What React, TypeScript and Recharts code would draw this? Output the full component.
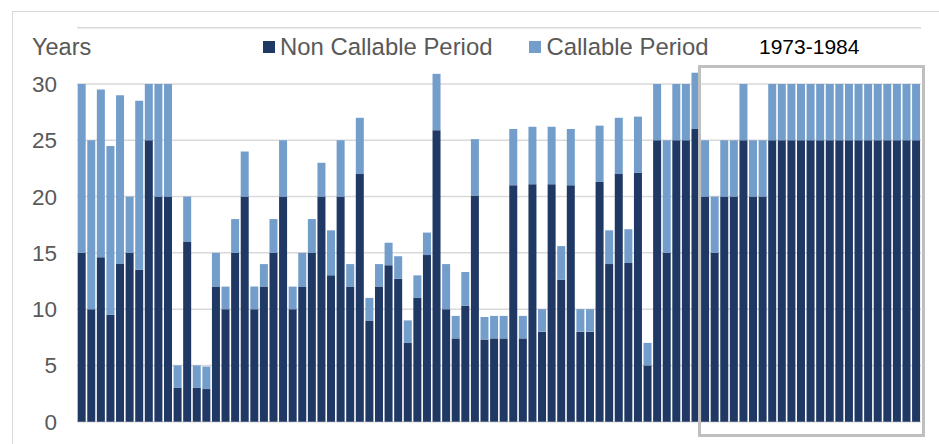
import React from "react";
import { BarChart, Bar, XAxis, YAxis, CartesianGrid } from "recharts";

// Non-callable period (years) per bond issue
const nonCallable: number[] = [
  15, 10, 14.6, 9.5, 14, 15, 13.5, 25, 20, 20,
  3, 16, 3, 2.9, 12, 10, 15, 20, 10, 12,
  15, 20, 10, 12, 15, 20, 13, 20, 12, 22,
  9, 12, 13.9, 12.7, 7, 11, 14.8, 25.9, 10, 7.4,
  10.3, 20.1, 7.3, 7.4, 7.4, 21, 7.4, 21.1, 8, 21.1,
  12.6, 21, 8, 8, 21.3, 14, 22, 14.1, 22.1, 5,
  25, 15, 25, 25, 26, 20, 15, 20, 20, 25,
  20, 20, 25, 25, 25, 25, 25, 25, 25, 25,
  25, 25, 25, 25, 25, 25, 25, 25,
];

// Total maturity (years) per bond issue
const totalMaturity: number[] = [
  30, 25, 29.5, 24.5, 29, 20, 28.5, 30, 30, 30,
  5, 20, 5, 4.9, 15, 12, 18, 24, 12, 14,
  18, 25, 12, 15, 18, 23, 17, 25, 14, 27,
  11, 14, 15.9, 14.7, 9, 13, 16.8, 30.9, 14, 9.4,
  13.3, 25.1, 9.3, 9.4, 9.4, 26, 9.4, 26.2, 10, 26.2,
  15.6, 26, 10, 10, 26.3, 17, 27, 17.1, 27.1, 7,
  30, 25, 30, 30, 31, 25, 20, 25, 25, 30,
  25, 25, 30, 30, 30, 30, 30, 30, 30, 30,
  30, 30, 30, 30, 30, 30, 30, 30,
];

const categories: string[] = nonCallable.map((_, i) => `Issue ${i + 1}`);
const yTicks: number[] = [0, 5, 10, 15, 20, 25, 30];
const seriesNames = { nonCallable: "Non Callable Period", callable: "Callable Period" };
const boxLabel = "1973-1984";
const yAxisTitle = "Years";

const data = categories.map((c, i) => ({
  name: c,
  nonCallable: nonCallable[i],
  callable: Math.round((totalMaturity[i] - nonCallable[i]) * 100) / 100,
}));

const DARK = "#203864";
const LIGHT = "#739dca";
const TEXT = "#595959";
const FONT = "'Liberation Sans', Arial, sans-serif";

const legendItems = [
  { name: seriesNames.nonCallable, color: DARK },
  { name: seriesNames.callable, color: LIGHT },
];

export default function App() {
  return (
    <div style={{ position: "absolute", left: 0, top: 0, width: 939, height: 444, overflow: "hidden", background: "#fff" }}>
      <div style={{ position: "absolute", left: 12, top: 11, width: 1000, height: 1000, border: "1px solid #d9d9d9", boxSizing: "border-box" }} />
      <BarChart
        width={939}
        height={444}
        data={data}
        margin={{ top: 27.7, right: 18, bottom: 22.3, left: 12 }}
        barCategoryGap="7%"
      >
        <CartesianGrid vertical={false} stroke="#d9d9d9" strokeWidth={1.5} />
        <XAxis dataKey="name" hide />
        <YAxis
          width={65}
          domain={[0, 35]}
          ticks={yTicks}
          axisLine={false}
          tickLine={false}
          tickSize={0}
          tickMargin={20}
          tick={{ fill: TEXT, fontSize: 22.5, fontFamily: FONT }}
        />
        <Bar dataKey="nonCallable" name={seriesNames.nonCallable} stackId="a" fill={DARK} isAnimationActive={false} />
        <Bar dataKey="callable" name={seriesNames.callable} stackId="a" fill={LIGHT} isAnimationActive={false} />
      </BarChart>
      <div
        style={{
          position: "absolute",
          left: 263,
          top: 30,
          display: "flex",
          alignItems: "center",
          fontFamily: FONT,
          fontSize: 23.9,
          color: TEXT,
          lineHeight: "34px",
          whiteSpace: "nowrap",
        }}
      >
        {legendItems.map((it, i) => (
          <div key={i} style={{ display: "flex", alignItems: "center", marginRight: i === 0 ? 37 : 0 }}>
            <span style={{ display: "inline-block", width: 12, height: 12, background: it.color, marginRight: 5 }} />
            <span>{it.name}</span>
          </div>
        ))}
      </div>
      <div style={{ position: "absolute", left: 32, top: 30, fontFamily: FONT, fontSize: 23.5, color: TEXT, lineHeight: "34px" }}>
        {yAxisTitle}
      </div>
      <div style={{ position: "absolute", left: 759, top: 32, fontFamily: FONT, fontSize: 21, color: "#000", lineHeight: "30px" }}>
        {boxLabel}
      </div>
      <div
        style={{
          position: "absolute",
          left: 697.5,
          top: 65.3,
          width: 227.5,
          height: 372,
          border: "3.7px solid #bfbfbf",
          boxSizing: "border-box",
        }}
      />
    </div>
  );
}
